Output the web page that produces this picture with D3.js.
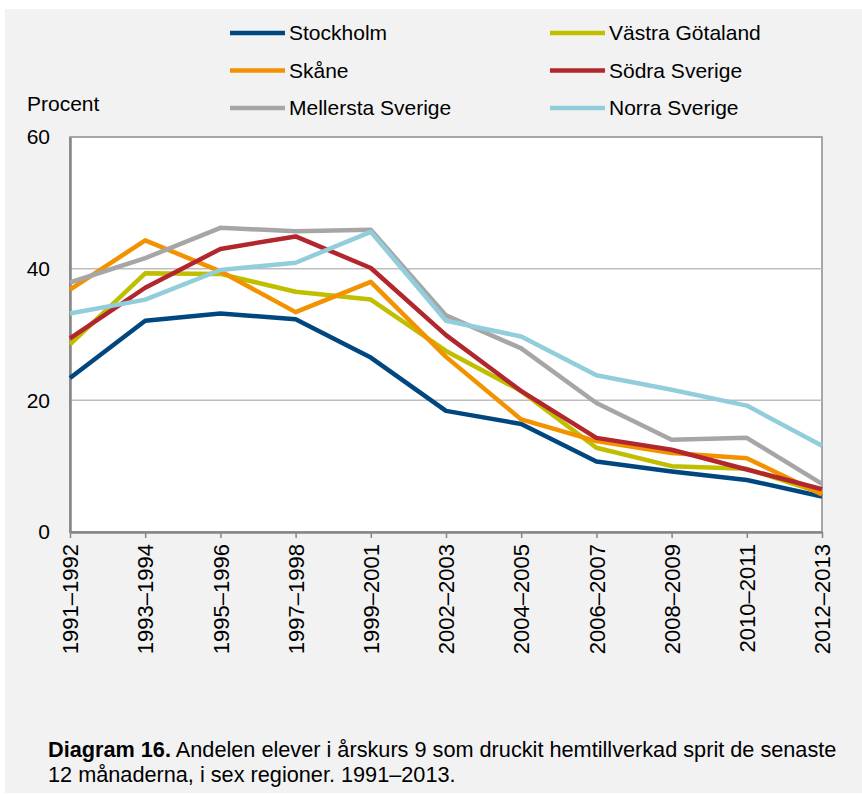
<!DOCTYPE html>
<html>
<head>
<meta charset="utf-8">
<script src="https://cdn.jsdelivr.net/npm/d3@7"></script>
<style>
  body { margin: 0; background: #ffffff; }
  text { font-family: "Liberation Sans", Arial, sans-serif; fill: #000; }
</style>
</head>
<body>
<svg></svg>
<script>
var width = 862;
var height = 794;

// periods on x axis
var periods = ['1991–1992', '1993–1994', '1995–1996', '1997–1998', '1999–2001', '2002–2003',
               '2004–2005', '2006–2007', '2008–2009', '2010–2011', '2012–2013'];

var stockholm = [23.4, 32.1, 33.2, 32.3, 26.5, 18.4, 16.4, 10.7, 9.2, 7.9, 5.4];
var vastraGotaland = [28.5, 39.3, 39.2, 36.5, 35.3, 27.5, 21.4, 12.8, 10.0, 9.6, 5.9];
var skane = [36.8, 44.3, 39.6, 33.4, 38.0, 26.6, 17.1, 13.8, 12.0, 11.2, 5.7];
var sodraSverige = [29.4, 37.1, 43.0, 44.9, 40.1, 29.9, 21.4, 14.3, 12.5, 9.5, 6.5];
var mellerstaSverige = [37.9, 41.6, 46.2, 45.7, 45.9, 32.9, 27.9, 19.6, 14.0, 14.3, 7.3];
var norraSverige = [33.2, 35.3, 39.8, 40.9, 45.6, 32.1, 29.7, 23.8, 21.6, 19.2, 13.1];

var yTicks = [0, 20, 40, 60];

var series = [
    {name: 'Stockholm', values: stockholm, color: '#00467f'},
    {name: 'Västra Götaland', values: vastraGotaland, color: '#bfbf00'},
    {name: 'Skåne', values: skane, color: '#f39200'},
    {name: 'Södra Sverige', values: sodraSverige, color: '#b2262e'},
    {name: 'Mellersta Sverige', values: mellerstaSverige, color: '#a6a6a6'},
    {name: 'Norra Sverige', values: norraSverige, color: '#92cddc'}
];

var plot = {left: 70, right: 822, top: 137, bottom: 532};
var font = '"Liberation Sans", Arial, sans-serif';

var svg = d3.select('svg')
            .attr('width', width)
            .attr('height', height);

// light panel behind everything
svg.append('rect')
    .attr('x', 5)
    .attr('y', 9)
    .attr('width', width - 5)
    .attr('height', height - 10)
    .attr('fill', '#f2f2f2');

var x = d3.scalePoint()
            .domain(periods)
            .range([plot.left, plot.right]);

var y = d3.scaleLinear()
            .domain([0, 60])
            .range([plot.bottom, plot.top]);

// plot area
svg.append('rect')
    .attr('x', plot.left)
    .attr('y', plot.top)
    .attr('width', plot.right - plot.left)
    .attr('height', plot.bottom - plot.top)
    .attr('fill', '#ffffff')
    .attr('stroke', '#8c8c8c')
    .attr('stroke-width', 1.5);

// gridlines
svg.append('g')
    .selectAll('line')
    .data(yTicks.filter(d => d > 0 && d < 60))
    .enter()
    .append('line')
        .attr('x1', plot.left)
        .attr('x2', plot.right)
        .attr('y1', d => y(d))
        .attr('y2', d => y(d))
        .attr('stroke', '#bdbdbd')
        .attr('stroke-width', 1.5);

// y axis
var yAxis = svg.append('g')
    .attr('transform', `translate(${plot.left}, 0)`)
    .call(d3.axisLeft(y).tickValues(yTicks).tickSize(0).tickPadding(20));
yAxis.select('.domain')
    .attr('stroke', '#868686')
    .attr('stroke-width', 2.5);
yAxis.selectAll('text')
    .style('font-size', '21px')
    .style('font-family', font)
    .attr('fill', '#000');

// x axis
var xAxis = svg.append('g')
    .attr('transform', `translate(0, ${plot.bottom})`)
    .call(d3.axisBottom(x).tickSize(6).tickSizeOuter(0));
xAxis.select('.domain')
    .attr('stroke', '#868686')
    .attr('stroke-width', 2.5);
xAxis.selectAll('.tick line')
    .attr('stroke', '#868686')
    .attr('stroke-width', 1.5);
xAxis.selectAll('text')
    .style('font-size', '22px')
    .style('font-family', font)
    .attr('fill', '#000')
    .attr('text-anchor', 'end')
    .attr('dy', '0.35em')
    .attr('y', 0)
    .attr('transform', 'translate(0, 12) rotate(-90)');

// lines
var line = d3.line()
    .x((d, i) => x(periods[i]))
    .y(d => y(d));

svg.append('g')
    .selectAll('path')
    .data(series)
    .enter()
    .append('path')
        .attr('d', d => line(d.values))
        .attr('fill', 'none')
        .attr('stroke', d => d.color)
        .attr('stroke-width', 4.5)
        .attr('stroke-linejoin', 'round');

// y axis title
svg.append('text')
    .attr('x', 27)
    .attr('y', 111)
    .style('font-size', '21px')
    .text('Procent');

// legend: two columns, three rows
var legend = svg.append('g')
    .selectAll('g')
    .data(series)
    .enter()
    .append('g')
        .attr('transform', (d, i) => `translate(${i % 2 === 0 ? 230 : 550}, ${33 + Math.floor(i / 2) * 37.5})`);

legend.append('line')
    .attr('x1', 0)
    .attr('x2', 55)
    .attr('stroke', d => d.color)
    .attr('stroke-width', 4.5);

legend.append('text')
    .attr('x', 59)
    .attr('dy', '0.35em')
    .style('font-size', '21px')
    .text(d => d.name);

// caption
var caption = svg.append('text')
    .attr('x', 48)
    .attr('y', 757)
    .style('font-size', '21.7px');
caption.append('tspan')
    .style('font-weight', 'bold')
    .text('Diagram 16.');
caption.append('tspan')
    .text(' Andelen elever i årskurs 9 som druckit hemtillverkad sprit de senaste');
svg.append('text')
    .attr('x', 48)
    .attr('y', 782)
    .style('font-size', '21.7px')
    .text('12 månaderna, i sex regioner. 1991–2013.');
</script>
</body>
</html>
